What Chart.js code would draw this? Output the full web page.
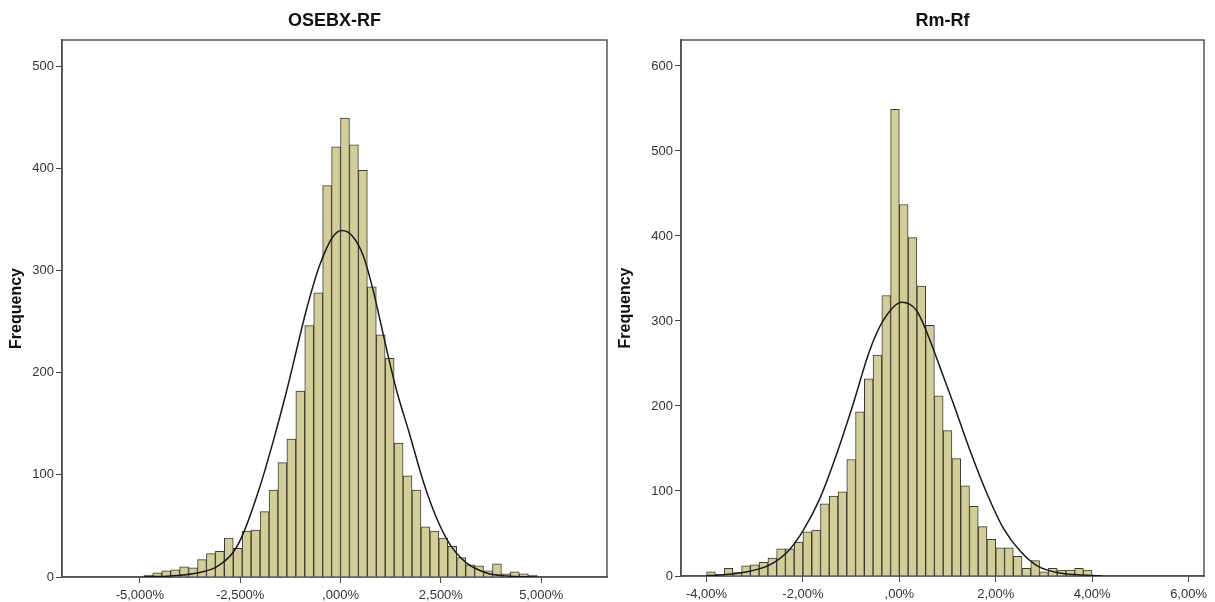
<!DOCTYPE html>
<html>
<head>
<meta charset="utf-8">
<script src="https://cdn.jsdelivr.net/npm/chart.js@4.4.0/dist/chart.umd.min.js"></script>
<style>
    html, body { margin: 0; padding: 0; background: #fff; }
    .box { position: absolute; top: 0; height: 602px; }
    #box-1 { left: 0; width: 612px; }
    #box-2 { left: 612px; width: 603px; }
</style>
</head>
<body>
<div class="box" id="box-1"><canvas id="myChart-1"></canvas></div>
<div class="box" id="box-2"><canvas id="myChart-2"></canvas></div>
<script>
// OSEBX-RF histogram (bin midpoints in %, counts)
const osebxBins = [-4.789, -4.566, -4.343, -4.121, -3.898, -3.675, -3.452, -3.230, -3.007, -2.784, -2.561,
    -2.339, -2.116, -1.893, -1.670, -1.448, -1.225, -1.002, -0.780, -0.557, -0.334, -0.111,
    0.111, 0.334, 0.557, 0.780, 1.002, 1.225, 1.448, 1.670, 1.893, 2.116, 2.339,
    2.561, 2.784, 3.007, 3.230, 3.452, 3.675, 3.898, 4.121, 4.343, 4.566, 4.789];
const osebxCounts = [2, 4, 6, 7, 10, 9, 17, 23, 25, 38, 28,
    45, 46, 64, 85, 112, 135, 182, 246, 278, 383, 421,
    449, 423, 398, 284, 237, 214, 131, 99, 85, 49, 45,
    38, 30, 19, 12, 11, 6, 13, 3, 5, 3, 2];
// normal curve
const osebxCurveX = [-4.9, -4.24, -3.51, -3.09, -2.68, -2.43, -2.02, -1.69, -1.35, -1.06, -0.86, -0.52, -0.19, 0.04,
    0.31, 0.56, 0.81, 1.09, 1.38, 1.72, 2.05, 2.38, 2.71, 3.13, 3.62, 4.12, 4.9];
const osebxCurveY = [0.2, 1, 4.5, 10, 24, 42, 87, 131, 181, 228, 260, 305, 333, 339,
    333, 315, 281, 233, 185, 140, 95, 59, 33, 14, 4.2, 1.1, 0.1];
const osebxTicks = [-5, -2.5, 0, 2.5, 5];
const osebxTickLabels = ['-5,000%', '-2,500%', ',000%', '2,500%', '5,000%'];
const osebxFreqTicks = [0, 100, 200, 300, 400, 500];

// Rm-Rf histogram
const rmBins = [-3.909, -3.727, -3.545, -3.364, -3.182, -3.000, -2.818, -2.636, -2.455, -2.273, -2.091,
    -1.909, -1.727, -1.545, -1.364, -1.182, -1.000, -0.818, -0.636, -0.455, -0.273, -0.091,
    0.091, 0.273, 0.455, 0.636, 0.818, 1.000, 1.182, 1.364, 1.545, 1.727, 1.909,
    2.091, 2.273, 2.455, 2.636, 2.818, 3.000, 3.182, 3.364, 3.545, 3.727, 3.909];
const rmCounts = [5, 2, 9, 4, 12, 13, 16, 21, 32, 32, 40,
    52, 54, 85, 94, 99, 137, 193, 232, 260, 330, 549,
    437, 398, 341, 295, 212, 171, 138, 106, 82, 58, 43,
    33, 33, 23, 9, 18, 5, 9, 7, 7, 9, 7];
const rmCurveX = [-4.0, -3.87, -3.25, -2.69, -2.28, -2.0, -1.65, -1.31, -0.96, -0.63, -0.34, 0.05,
    0.36, 0.63, 0.84, 1.12, 1.47, 1.81, 2.16, 2.51, 2.86, 3.34, 3.89, 4.2];
const rmCurveY = [0.4, 0.6, 4, 13, 31, 53, 91, 142, 202, 263, 300, 322,
    312, 278, 246, 203, 147, 98, 56, 29, 12, 3.4, 0.8, 0.3];
const rmTicks = [-4, -2, 0, 2, 4, 6];
const rmTickLabels = ['-4,00%', '-2,00%', ',00%', '2,00%', '4,00%', '6,00%'];
const rmFreqTicks = [0, 100, 200, 300, 400, 500, 600];

const FONT = "'Liberation Sans', Arial, sans-serif";

const framePlugin = {
    id: 'frame',
    beforeDatasetsDraw(chart) {
        const a = chart.chartArea;
        const ctx = chart.ctx;
        ctx.save();
        ctx.strokeStyle = '#555';
        ctx.lineWidth = 1.5;
        ctx.strokeRect(a.left, a.top, a.right - a.left, a.bottom - a.top);
        ctx.restore();
    }
};

function toPoints(xs, ys) {
    return xs.map((x, i) => ({ x: x, y: ys[i] }));
}

function makeConfig(o) {
    return {
        type: 'bar',
        data: {
            datasets: [
                {
                    type: 'line',
                    data: toPoints(o.curveX, o.curveY),
                    borderColor: '#1a1a1a',
                    borderWidth: 1.5,
                    pointRadius: 0,
                    cubicInterpolationMode: 'monotone',
                    order: 0
                },
                {
                    type: 'bar',
                    data: toPoints(o.bins, o.counts),
                    backgroundColor: 'rgb(211, 206, 151)',
                    borderColor: '#3a3a3a',
                    borderWidth: 1,
                    barPercentage: 1,
                    categoryPercentage: 1,
                    order: 1
                }
            ]
        },
        options: {
            responsive: true,
            maintainAspectRatio: false,
            animation: false,
            layout: { padding: { left: 0, right: o.padRight, top: 0, bottom: 0 } },
            plugins: {
                legend: { display: false },
                tooltip: { enabled: false },
                title: {
                    display: true,
                    text: o.title,
                    fullSize: false,
                    color: '#111',
                    font: { family: FONT, size: 18, weight: 'bold', lineHeight: 1.2 },
                    padding: { top: 10, bottom: 8.4 }
                }
            },
            scales: {
                x: {
                    type: 'linear',
                    min: o.xMin,
                    max: o.xMax,
                    offset: false,
                    afterFit: s => { s.height = o.xHeight; },
                    afterBuildTicks: s => { s.ticks = o.ticks.map(v => ({ value: v })); },
                    grid: { display: true, offset: false, drawOnChartArea: false, drawTicks: true, tickLength: 6, color: '#444' },
                    border: { display: true, color: '#444', width: 1.5 },
                    ticks: {
                        autoSkip: false,
                        maxRotation: 0,
                        padding: 5,
                        color: '#333',
                        font: { family: FONT, size: 13 },
                        callback: v => o.tickLabels[o.ticks.indexOf(v)]
                    }
                },
                y: {
                    type: 'linear',
                    min: 0,
                    max: o.yMax,
                    afterFit: s => { s.width = o.yWidth; },
                    afterBuildTicks: s => { s.ticks = o.freqTicks.map(v => ({ value: v })); },
                    grid: { display: true, drawOnChartArea: false, drawTicks: true, tickLength: 6, color: '#444' },
                    border: { display: true, color: '#444', width: 1.5 },
                    ticks: { padding: 2, color: '#333', font: { family: FONT, size: 13 } },
                    title: {
                        display: true,
                        text: 'Frequency',
                        color: '#111',
                        font: { family: FONT, size: 16, weight: 'bold', lineHeight: 1.2 },
                        padding: { top: o.titlePad, bottom: 0 }
                    }
                }
            }
        },
        plugins: [framePlugin]
    };
}

const config1 = makeConfig({
    title: 'OSEBX-RF', bins: osebxBins, counts: osebxCounts, curveX: osebxCurveX, curveY: osebxCurveY,
    ticks: osebxTicks, tickLabels: osebxTickLabels, freqTicks: osebxFreqTicks,
    xMin: -6.94, xMax: 6.64, yMax: 525.5, yWidth: 62, xHeight: 25, padRight: 5, titlePad: 7
});
const config2 = makeConfig({
    title: 'Rm-Rf', bins: rmBins, counts: rmCounts, curveX: rmCurveX, curveY: rmCurveY,
    ticks: rmTicks, tickLabels: rmTickLabels, freqTicks: rmFreqTicks,
    xMin: -4.53, xMax: 6.32, yMax: 630.5, yWidth: 69, xHeight: 26, padRight: 11, titlePad: 4.4
});

const myChart = new Chart(document.getElementById('myChart-1'), config1);
const myChart2 = new Chart(document.getElementById('myChart-2'), config2);
</script>
</body>
</html>
